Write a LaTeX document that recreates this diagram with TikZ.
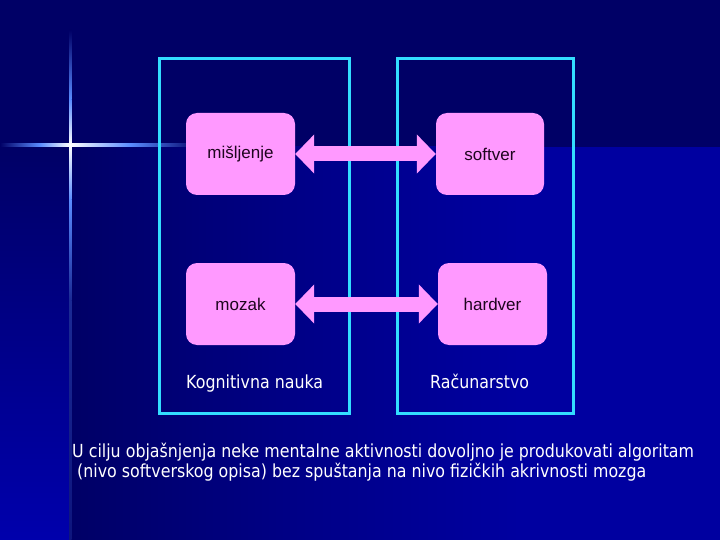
\documentclass[tikz,border=0pt]{standalone}
\usepackage{fontspec}
\setmainfont{Liberation Sans}
\newfontfamily\tahoma[FakeStretch=0.88]{DejaVu Sans}
\usetikzlibrary{arrows.meta}
\definecolor{bgdark}{RGB}{0,0,102}
\definecolor{bgmid}{RGB}{0,0,135}
\definecolor{bgbright}{RGB}{0,0,160}
\definecolor{bgleft}{RGB}{0,0,172}
\definecolor{cyanline}{RGB}{51,221,255}
\definecolor{pinkbox}{RGB}{255,153,255}
\definecolor{startint}{RGB}{90,140,255}
\definecolor{boxtext}{RGB}{30,5,30}
\tikzset{
  frame/.style={draw=cyanline, line width=3pt, minimum width=#1, minimum height=354pt, inner sep=0pt},
  pbox/.style={fill=pinkbox, rounded corners=11pt, minimum width=109pt, minimum height=82pt, inner sep=0pt, text=boxtext, font=\fontsize{17}{20}\selectfont},
  blockarrow/.style={draw=pinkbox, line width=15pt, {Triangle[width=38pt,length=19pt]}-{Triangle[width=38pt,length=19pt]}},
  whitetext/.style={text=white, inner sep=0pt, anchor=base west, font=\tahoma\fontsize{18}{21}\selectfont}
}
\begin{document}
\begin{tikzpicture}[x=1pt,y=-1pt]
\useasboundingbox (0,0) rectangle (720,540);
% background
\fill[bgdark] (0,0) rectangle (720,540);
\shade[top color=bgdark, bottom color=bgleft] (0,147) rectangle (70,540);
\shade[left color=bgdark, right color=bgmid] (70,147) rectangle (300,540);
\shade[left color=bgmid, right color=bgbright] (300,147) rectangle (520,540);
\fill[bgbright] (519.5,147) rectangle (720,540);
% star
\shade[left color=bgdark, right color=startint] (0,144) rectangle (40,146.5);
\shade[left color=startint, right color=white] (40,144) rectangle (70,146.5);
\shade[left color=white, right color=startint] (70,144) rectangle (130,146.5);
\shade[left color=startint, right color=bgdark] (130,144) rectangle (200,146.5);
\shade[top color=bgdark, bottom color=startint] (69,30) rectangle (71.5,100);
\shade[top color=startint, bottom color=white] (69,100) rectangle (71.5,145);
\shade[top color=white, bottom color=startint] (69,145) rectangle (71.5,200);
\shade[top color=startint, bottom color=bgdark!70!startint] (69,200) rectangle (71.5,300);
\shade[top color=bgdark!70!startint, bottom color=bgdark!85!startint] (69,300) rectangle (71.5,540);
% frames
\node[frame=190pt] (leftframe) at (254,236) {};
\node[frame=176pt] (rightframe) at (485,236) {};
% boxes
\node[pbox] (misljenje) at (240.5,154) {mišljenje};
\node[pbox, minimum width=108pt] (softver) at (490,154) {softver};
\node[pbox] (mozak) at (240.5,304) {mozak};
\node[pbox] (hardver) at (492.5,304) {hardver};
% arrows
\draw[blockarrow] (misljenje.east) -- (softver.west);
\draw[blockarrow] (mozak.east) -- (hardver.west);
% labels
\node[whitetext] (kog) at (186,388) {Kognitivna nauka};
\node[whitetext] (rac) at (430,388) {Računarstvo};
\node[whitetext] (line1) at (72,457) {U cilju objašnjenja neke mentalne aktivnosti dovoljno je produkovati algoritam};
\node[whitetext] (line2) at (72,477) {\ (nivo softverskog opisa) bez spuštanja na nivo fizičkih akrivnosti mozga};
\end{tikzpicture}
\end{document}
